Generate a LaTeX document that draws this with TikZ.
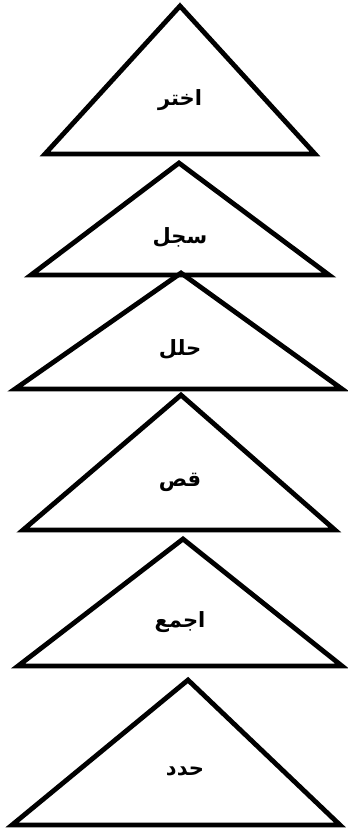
\documentclass[tikz,border=0pt]{standalone}
\usepackage{fontspec}
\newfontfamily\arabicfont[Script=Arabic]{DejaVu Sans}
\TeXXeTstate=1
\begin{document}
\begin{tikzpicture}[x=1pt,y=-1pt,
  tri/.style={draw=black,line width=4.8pt,line join=miter},
  lbl/.style={font=\arabicfont\bfseries\fontsize{21}{24}\selectfont,inner sep=0pt}]
\useasboundingbox (0,0) rectangle (348,833);
% triangles
\draw[tri] (180,6) -- (315,154) -- (45,154) -- cycle;
\draw[tri] (179,163) -- (329,275) -- (31,275) -- cycle;
\draw[tri] (181,273) -- (342,389) -- (15,389) -- cycle;
\draw[tri] (181,395) -- (335,530) -- (23,530) -- cycle;
\draw[tri] (183,539) -- (342,666) -- (18,666) -- cycle;
\draw[tri] (188,680) -- (340,825) -- (12,825) -- cycle;
% labels
\node[lbl] (t1) at (180,100) {\beginR اختر\endR};
\node[lbl] (t2) at (180,237) {\beginR سجل\endR};
\node[lbl] (t3) at (180,349) {\beginR حلل\endR};
\node[lbl] (t4) at (180,482) {\beginR قص\endR};
\node[lbl] (t5) at (180,622) {\beginR اجمع\endR};
\node[lbl] (t6) at (185,771) {\beginR حدد\endR};
\end{tikzpicture}
\end{document}
